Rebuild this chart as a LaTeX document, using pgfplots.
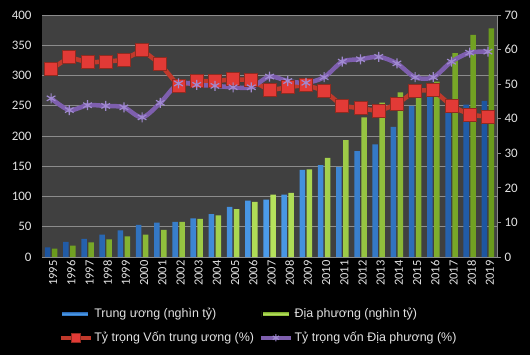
\documentclass[border=0pt]{standalone}
\usepackage{pgfplots}
\pgfplotsset{compat=1.18}
\usepackage{pgfplotstable}
\usepackage{fontspec}
\setmainfont{Liberation Sans}
\newfontfamily\carlito{Carlito}
\definecolor{bgplot}{HTML}{404040}
\definecolor{gridc}{HTML}{8C8C8C}
\definecolor{txt}{HTML}{E2E2E2}
\definecolor{bluedark}{HTML}{1D55A0}
\definecolor{bluelight}{HTML}{4C9CEA}
\definecolor{greendark}{HTML}{6A9A1C}
\definecolor{greenlight}{HTML}{B6E25C}
\definecolor{redline}{HTML}{C0392B}
\definecolor{redmark}{HTML}{E23A36}
\definecolor{purpleline}{HTML}{7E5FAE}
\definecolor{purplemark}{HTML}{A08AD0}

\pgfplotstableread{
x year tw dp
0 1995 16 14
1 1996 25 19
2 1997 30 24
3 1998 37 29
4 1999 44 34
5 2000 53 37
6 2001 57 45
7 2002 58 58
8 2003 64 63
9 2004 71 69
10 2005 83 79
11 2006 93 91
12 2007 95 103
13 2008 103 106
14 2009 144 145
15 2010 152 164
16 2011 149 193
17 2012 175 231
18 2013 186 255
19 2014 215 272
20 2015 250 272
21 2016 270 290
22 2017 260 337
23 2018 252 367
24 2019 258 378
}\bars

\pgfplotstableread{
x vtw vdp
0 54.3 45.9
1 57.8 42.5
2 56.3 43.9
3 56.5 43.7
4 57.0 43.3
5 59.9 40.4
6 55.8 44.6
7 49.5 50.2
8 50.9 49.8
9 50.9 49.5
10 51.4 49.1
11 51.2 49.1
12 48.2 52.2
13 49.1 50.9
14 49.8 50.4
15 48.1 52.0
16 43.7 56.5
17 43.0 57.2
18 42.2 57.9
19 44.2 56.0
20 48.1 52.0
21 48.3 52.0
22 43.7 56.5
23 41.1 59.1
24 40.6 59.4
}\lines

\begin{document}
\begin{tikzpicture}[x=1bp,y=1bp]
\fill[black] (-42,-98) rectangle (488,257);
\useasboundingbox (-42,-98) rectangle (488,257);
\begin{axis}[
  at={(0,0)}, anchor=south west,
  scale only axis, width=455bp, height=242bp,
  xmin=-0.5, xmax=24.5, ymin=0, ymax=400,
  axis background/.style={fill=bgplot},
  ybar=1.5bp, bar width=5.5bp,
  ytick={0,50,...,400},
  ymajorgrids, grid style={gridc, line width=0.8bp},
  xtick={0,...,24},
  xticklabels={1995,1996,1997,1998,1999,2000,2001,2002,2003,2004,2005,2006,2007,2008,2009,2010,2011,2012,2013,2014,2015,2016,2017,2018,2019},
  x tick label style={rotate=90, anchor=east, font=\carlito\fontsize{12.5}{13}\selectfont, text=txt, yshift=-2bp},
  y tick label style={font=\carlito\fontsize{13}{15}\selectfont, text=txt, xshift=-7bp},
  /pgf/number format/assume math mode=true,
  axis y line*=left, axis x line*=bottom,
  y axis line style={draw=none},
  x axis line style={gridc, line width=1bp},
  major tick length=0pt,
  clip=false,
]
\addplot[draw=none, left color=bluedark, right color=bluedark, middle color=bluelight] table[x=x,y=tw]{\bars};
\addplot[draw=none, left color=greendark, right color=greendark, middle color=greenlight] table[x=x,y=dp]{\bars};
\end{axis}
\begin{axis}[
  at={(0,0)}, anchor=south west,
  scale only axis, width=455bp, height=242bp,
  xmin=-0.5, xmax=24.5, ymin=0, ymax=70,
  axis x line=none, axis y line*=right,
  ytick={0,10,...,70},
  y axis line style={gridc, line width=1bp},
  ytick style={gridc, line width=1bp},
  tick align=outside, major tick length=4bp,
  y tick label style={font=\carlito\fontsize{13}{15}\selectfont, text=txt},
  /pgf/number format/assume math mode=true,
  clip=false,
  legend columns=2,
  legend cell align=left,
  legend style={draw=none, fill=none, text=txt, font=\fontsize{12.5}{14}\selectfont,
    at={(0.03,-0.195)}, anchor=north west, row sep=9bp,
    /tikz/every even column/.append style={column sep=3bp}},
  legend image code/.code={\draw[mark repeat=2, mark phase=2, line width=3.5bp, every mark/.append style={scale=0.72}] plot coordinates {(0bp,0bp) (15bp,0bp) (30bp,0bp)};},
]
\addlegendimage{legend image code/.code={\fill[top color=bluedark, bottom color=bluedark, middle color=bluelight] (1bp,-2.5bp) rectangle (28bp,2.5bp);}}
\addlegendentry{Trung ương (nghìn tỷ)}
\addlegendimage{legend image code/.code={\fill[top color=greendark, bottom color=greendark, middle color=greenlight] (1bp,-2.5bp) rectangle (28bp,2.5bp);}}
\addlegendentry{Địa phương (nghìn tỷ)}
\addplot[redline, line width=4.5bp, mark=square*, mark size=6.5bp, mark options={solid, fill=redmark, draw=redline!75!black, line width=0.8bp}] table[x=x,y=vtw]{\lines};
\addlegendentry{Tỷ trọng Vốn trung ương (\%)}
\addplot[purpleline, line width=4.5bp, smooth, mark=asterisk, mark size=5bp, mark options={solid, draw=purplemark, line width=1.2bp}] table[x=x,y=vdp]{\lines};
\addlegendentry{Tỷ trọng vốn Địa phương (\%)}
\end{axis}
\end{tikzpicture}
\end{document}
